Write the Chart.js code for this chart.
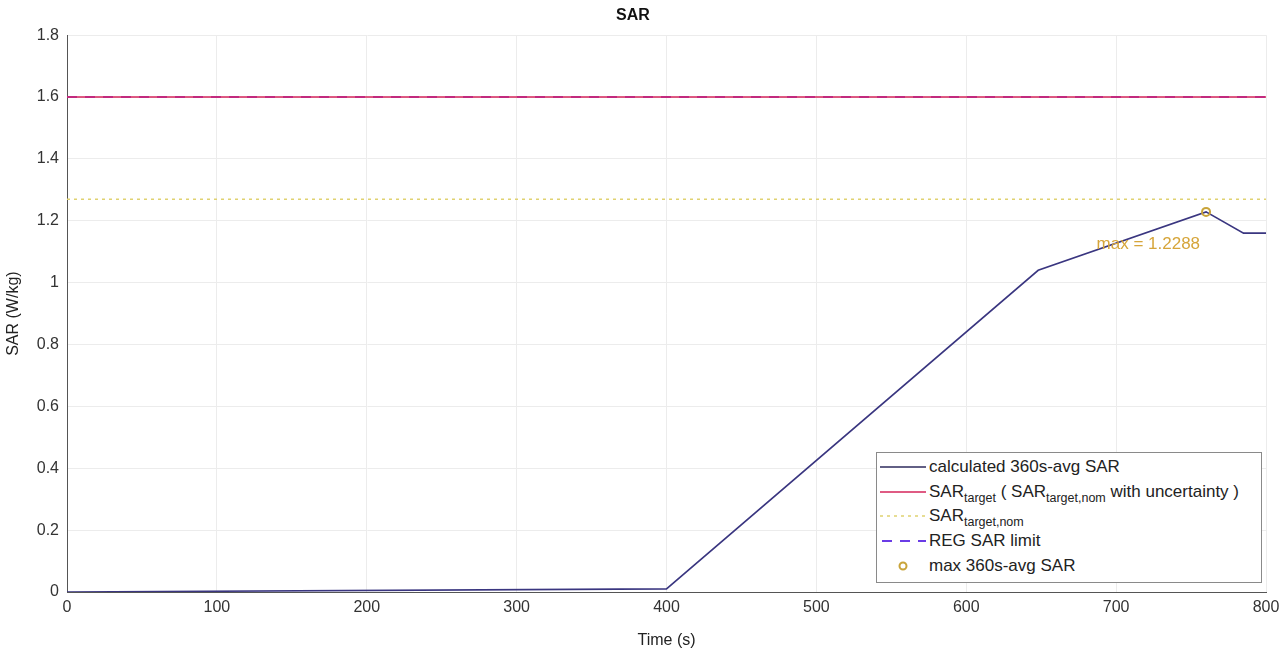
<!DOCTYPE html>
<html>
<head>
<meta charset="utf-8">
<title>SAR</title>
<script src="https://cdn.jsdelivr.net/npm/chart.js@4.4.1/dist/chart.umd.min.js"></script>
<style>
    html, body { margin: 0; padding: 0; background: #fff; }
    #wrap { position: relative; width: 1287px; height: 654px; }
    #legend {
        position: absolute;
        border: 1px solid #8a8a8a;
        background: #fff;
        font-family: "Liberation Sans", Arial, sans-serif;
        font-size: 17px;
        color: #222;
        padding: 2px 4px 3px 3px;
        box-sizing: border-box;
    }
    #legend .row { display: flex; align-items: center; height: 24.6px; white-space: nowrap; }
    #legend .sw { width: 46px; height: 12px; margin-right: 3px; flex: none; }
    #legend sub { font-size: 12.5px; vertical-align: -5px; line-height: 0; }
</style>
</head>
<body>
<div id="wrap">
    <canvas id="sarChart" width="1287" height="654"></canvas>
    <div id="legend">
        <div class="row"><svg class="sw"><line x1="0" y1="6" x2="46" y2="6" stroke="#2e2b5c" stroke-width="1.5"/></svg><span>calculated 360s-avg SAR</span></div>
        <div class="row"><svg class="sw"><line x1="0" y1="6" x2="46" y2="6" stroke="#d4245a" stroke-width="1.5"/></svg><span>SAR<sub>target</sub> ( SAR<sub>target,nom</sub> with uncertainty )</span></div>
        <div class="row"><svg class="sw"><line x1="0" y1="6" x2="46" y2="6" stroke="#e0d270" stroke-width="1.5" stroke-dasharray="3,4"/></svg><span>SAR<sub>target,nom</sub></span></div>
        <div class="row"><svg class="sw"><line x1="2" y1="6" x2="46" y2="6" stroke="#6a3ce6" stroke-width="2" stroke-dasharray="10,8"/></svg><span>REG SAR limit</span></div>
        <div class="row"><svg class="sw"><circle cx="23" cy="6" r="3.5" fill="none" stroke="#c9a43a" stroke-width="2"/></svg><span>max 360s-avg SAR</span></div>
    </div>
</div>
<script>
// x axis ticks (s) and y axis ticks (W/kg)
const timeTicks = [0, 100, 200, 300, 400, 500, 600, 700, 800];
const sarTicks = [0, 0.2, 0.4, 0.6, 0.8, 1, 1.2, 1.4, 1.6, 1.8];

// calculated 360s-avg SAR
const avgTime = [0, 400, 648, 760, 785, 800];
const avgSar = [0, 0.01, 1.04, 1.2288, 1.16, 1.16];

// horizontal limits
const limitTime = [0, 800];
const sarTarget = [1.6, 1.6];
const sarTargetNom = [1.27, 1.27];
const regLimit = [1.6, 1.6];

// max point
const maxTime = [760];
const maxSar = [1.2288];

const toPoints = (xs, ys) => xs.map((x, i) => ({ x: x, y: ys[i] }));

const font = 'Liberation Sans, Arial, sans-serif';

const maxLabel = {
    id: 'maxLabel',
    afterDatasetsDraw(chart) {
        const { ctx, scales } = chart;
        const px = scales.x.getPixelForValue(maxTime[0]);
        const py = scales.y.getPixelForValue(maxSar[0]);
        ctx.save();
        ctx.font = '17px ' + font;
        ctx.fillStyle = '#d6a53a';
        ctx.textAlign = 'right';
        ctx.textBaseline = 'middle';
        ctx.fillText('max = ' + maxSar[0], px - 6, py + 32);
        ctx.restore();
    },
    afterRender(chart) {
        const area = chart.chartArea;
        const legend = document.getElementById('legend');
        legend.style.left = (area.right - 390) + 'px';
        legend.style.top = (area.bottom - 140) + 'px';
        legend.style.width = '386px';
        legend.style.height = '131px';
    }
};

new Chart(document.getElementById('sarChart').getContext('2d'), {
    type: 'line',
    data: {
        datasets: [
            {
                label: 'max 360s-avg SAR',
                data: toPoints(maxTime, maxSar),
                showLine: false,
                pointRadius: 4,
                pointBorderWidth: 2,
                pointBorderColor: '#c9a43a',
                pointBackgroundColor: 'rgba(0,0,0,0)'
            },
            {
                label: 'SAR target',
                data: toPoints(limitTime, sarTarget),
                borderColor: '#d4245a',
                borderWidth: 1.5,
                pointRadius: 0
            },
            {
                label: 'REG SAR limit',
                data: toPoints(limitTime, regLimit),
                borderColor: '#8a3cea',
                borderWidth: 2,
                borderDash: [10, 8],
                pointRadius: 0
            },
            {
                label: 'SAR target,nom',
                data: toPoints(limitTime, sarTargetNom),
                borderColor: '#e0d270',
                borderWidth: 1.5,
                borderDash: [3, 4],
                pointRadius: 0
            },
            {
                label: 'calculated 360s-avg SAR',
                data: toPoints(avgTime, avgSar),
                borderColor: '#3a3680',
                borderWidth: 1.6,
                pointRadius: 0,
                tension: 0
            }
        ]
    },
    options: {
        responsive: false,
        animation: false,
        layout: { padding: { left: 0, right: 21, top: 0, bottom: 0 } },
        plugins: {
            legend: { display: false },
            tooltip: { enabled: false },
            title: {
                display: true,
                text: 'SAR',
                color: '#111',
                font: { family: font, size: 16, weight: 'bold' },
                padding: { top: 6, bottom: 10 }
            }
        },
        scales: {
            x: {
                type: 'linear',
                min: 0,
                max: 800,
                afterBuildTicks: axis => { axis.ticks = timeTicks.map(v => ({ value: v })); },
                afterFit: axis => { axis.height = 62; },
                grid: { color: '#ececec', drawTicks: false },
                border: { color: '#555', width: 1 },
                ticks: { color: '#333', font: { family: font, size: 16 }, padding: 6 },
                title: { display: true, text: 'Time (s)', color: '#222', font: { family: font, size: 16 }, padding: { top: 2 } }
            },
            y: {
                min: 0,
                max: 1.8,
                afterBuildTicks: axis => { axis.ticks = sarTicks.map(v => ({ value: v })); },
                afterFit: axis => { axis.width = 67; },
                grid: { color: '#ececec', drawTicks: false },
                border: { color: '#555', width: 1 },
                ticks: { color: '#333', font: { family: font, size: 16 }, padding: 8, callback: v => String(v) },
                title: { display: true, text: 'SAR (W/kg)', color: '#222', font: { family: font, size: 16 }, padding: { bottom: 0 } }
            }
        }
    },
    plugins: [maxLabel]
});
</script>
</body>
</html>
